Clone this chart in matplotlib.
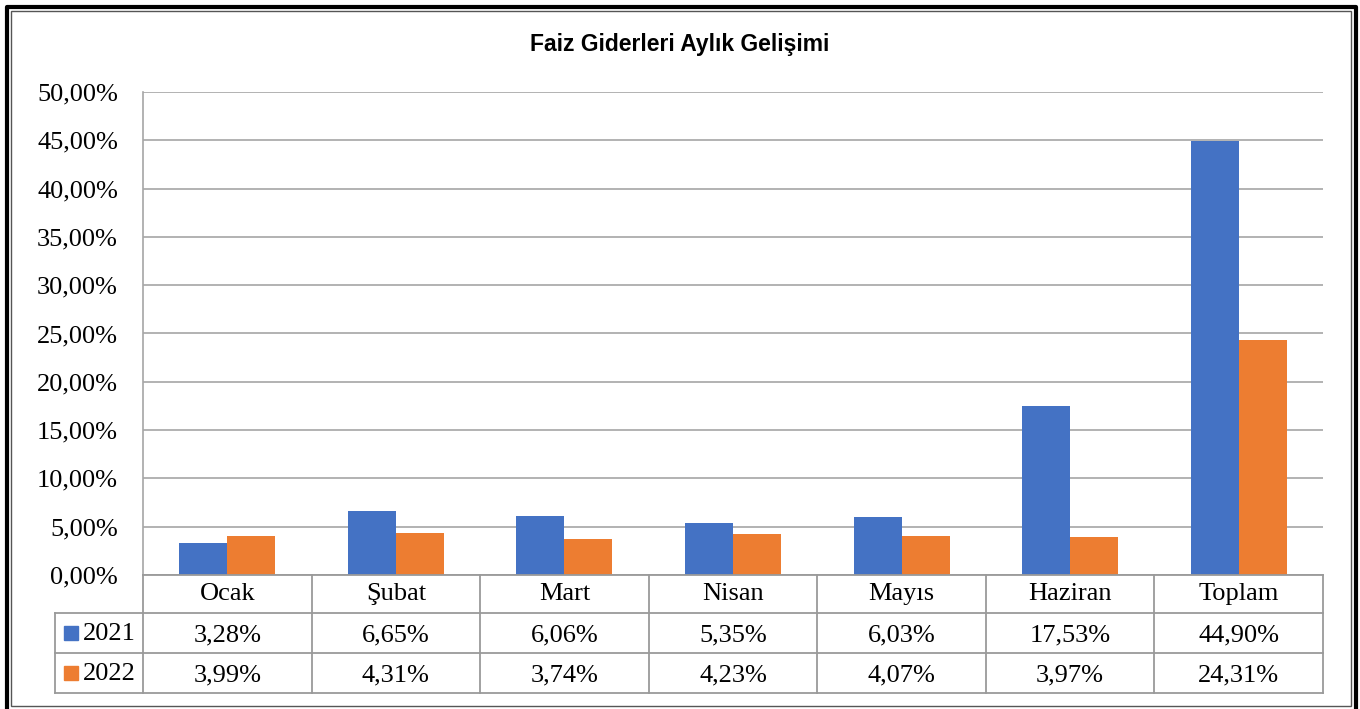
import matplotlib
matplotlib.use('Agg')
import matplotlib.pyplot as plt
import matplotlib.transforms as mtransforms
from matplotlib.lines import Line2D
from matplotlib.patches import Rectangle
import numpy as np

# veriler
aylar = ['Ocak', 'Şubat', 'Mart', 'Nisan', 'Mayıs', 'Haziran', 'Toplam']
y2021 = [3.28, 6.65, 6.06, 5.35, 6.03, 17.53, 44.90]
y2022 = [3.99, 4.31, 3.74, 4.23, 4.07, 3.97, 24.31]
seriler = ['2021', '2022']
renkler = ['#4472C4', '#ED7D31']

W, H = 1360, 709
fig = plt.figure(figsize=(W / 100, H / 100), dpi=100)
FS = 19

def fx(x):
    return x / W

def fy(y):
    return 1 - y / H

# grafik alanı (piksel: 143..1323, 92..575)
ax = fig.add_axes([fx(143), fy(575), (1323 - 143) / W, (575 - 92) / H])
x = np.arange(len(aylar))
w = 0.285
ax.bar(x - w / 2, y2021, w, color=renkler[0], zorder=3)
ax.bar(x + w / 2, y2022, w, color=renkler[1], zorder=3)

ax.set_xlim(-0.5, len(aylar) - 0.5)
ax.set_ylim(0, 50)
ax.set_yticks(np.arange(0, 51, 5))
ax.set_yticklabels([f'{v:.2f}%'.replace('.', ',') for v in np.arange(0, 51, 5)],
                   fontfamily='Liberation Serif', fontsize=FS)
ax.tick_params(axis='y', length=0, pad=18)
ax.set_xticks([])
ax.grid(axis='y', color='#a6a6a6', linewidth=1.2, zorder=0)
for s in ['top', 'right', 'bottom']:
    ax.spines[s].set_visible(False)
ax.spines['left'].set_color('#a6a6a6')
ax.spines['left'].set_linewidth(1.2)

# veri tablosu
gri = '#9a9a9a'
ah = 575 - 92
tr = mtransforms.blended_transform_factory(ax.transData, ax.transAxes)
satirlar = [575, 613, 653, 693]
for i, yy in enumerate(satirlar):
    x0 = 143 if i == 0 else 55
    fig.add_artist(Line2D([fx(x0), fx(1323)], [fy(yy), fy(yy)], color=gri, lw=1.3))
for k in range(len(aylar) + 1):
    xp = ax.transData.transform((k - 0.5, 0))[0]
    fig.add_artist(Line2D([fx(xp), fx(xp)], [fy(575), fy(693)], color=gri, lw=1.3))
fig.add_artist(Line2D([fx(55), fx(55)], [fy(613), fy(693)], color=gri, lw=1.3))

for i, ay in enumerate(aylar):
    ax.text(i, -19 / ah, ay, transform=tr, ha='center', va='center',
            fontfamily='Liberation Serif', fontsize=FS)
    ax.text(i, -60 / ah, f'{y2021[i]:.2f}%'.replace('.', ','), transform=tr,
            ha='center', va='center', fontfamily='Liberation Serif', fontsize=FS)
    ax.text(i, -100 / ah, f'{y2022[i]:.2f}%'.replace('.', ','), transform=tr,
            ha='center', va='center', fontfamily='Liberation Serif', fontsize=FS)

for j, (ad, rk) in enumerate(zip(seriler, renkler)):
    yc = 633 + 40 * j
    fig.add_artist(Rectangle((fx(64), fy(yc + 7)), 14 / W, 14 / H, color=rk))
    fig.text(fx(83), fy(yc + 1), ad, ha='left', va='center',
             fontfamily='Liberation Serif', fontsize=FS)

# başlık
fig.text(0.5, fy(45), 'Faiz Giderleri Aylık Gelişimi', ha='center', va='center',
         fontfamily='Liberation Sans', fontweight='bold', fontsize=16.5)

# çerçeveler
fig.add_artist(Line2D([fx(7), fx(7), fx(1356), fx(1356)], [0, fy(7), fy(7), 0],
                      color='black', lw=3))
fig.add_artist(Rectangle((fx(11), fy(706)), (1351 - 11) / W, (706 - 11) / H,
                         fill=False, edgecolor='#555555', lw=1))

fig.savefig('out.png', dpi=100)
